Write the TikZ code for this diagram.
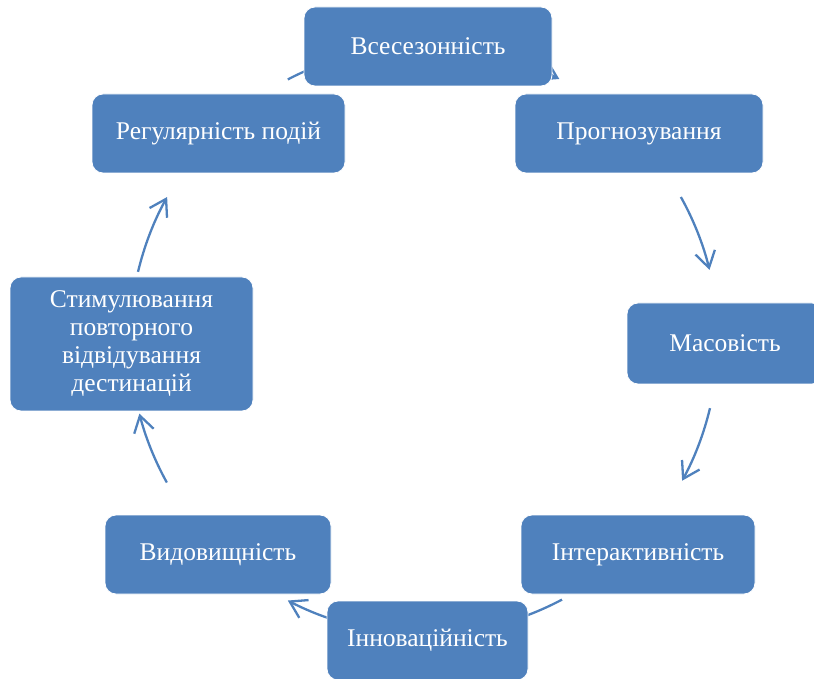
\documentclass[tikz,border=0pt]{standalone}
\usepackage{fontspec}
\setmainfont{Liberation Serif}
\usetikzlibrary{arrows.meta}
\definecolor{sablue}{HTML}{4F81BD}
\begin{document}
\begin{tikzpicture}[x=1pt,y=1pt,
  box/.style={rectangle, rounded corners=11pt, fill=sablue, draw=white, line width=0.8pt,
    text=white, align=center, inner sep=2pt,
    font=\fontsize{25.5}{28}\selectfont},
  cyc/.style={draw=sablue, line width=2.3pt, -{Straight Barb[length=16pt,width=20pt,line width=2.3pt]}}]
\useasboundingbox (0,0) rectangle (814,678);
\begin{scope}
\clip (0,0) rectangle (814,678);
\coordinate (O) at (424,338);
% connectors (drawn first, under the boxes)
\draw[cyc] (O) ++(117.6:294) arc[start angle=117.6, end angle=98, radius=294];
\draw[cyc] (O) ++(82:294) arc[start angle=82, end angle=62.6, radius=294];
\draw[cyc] (O) ++(29.1:294) arc[start angle=29.1, end angle=13.8, radius=294];
\draw[cyc] (O) ++(-13.4:294) arc[start angle=-13.4, end angle=-28.6, radius=294];
\draw[cyc] (O) ++(-62:294) arc[start angle=-62, end angle=-82, radius=294];
\draw[cyc] (O) ++(-98:294) arc[start angle=-98, end angle=-117.6, radius=294];
\draw[cyc] (O) ++(209:294) arc[start angle=209, end angle=194.5, radius=294];
\draw[cyc] (O) ++(166.6:294) arc[start angle=166.6, end angle=150.9, radius=294];
% boxes
\node[box, minimum width=248pt, minimum height=79pt] (n1) at (428,631.5) {Всесезонність};
\node[box, minimum width=248pt, minimum height=79pt] (n2) at (639,544.5) {Прогнозування};
\node[box, minimum width=196pt, minimum height=81pt] (n3) at (725,334.5) {Масовість};
\node[box, minimum width=234pt, minimum height=79pt] (n4) at (638,123.5) {Інтерактивність};
\node[box, minimum width=201pt, minimum height=79pt] (n5) at (427.5,37.5) {Інноваційність};
\node[box, minimum width=226pt, minimum height=79pt] (n6) at (218,123.5) {Видовищність};
\node[box, minimum width=243pt, minimum height=134pt] (n7) at (131.5,334) {Стимулювання\\повторного\\відвідування\\дестинацій};
\node[box, minimum width=253pt, minimum height=79pt] (n8) at (218.5,544.5) {Регулярність подій};
\end{scope}
\end{tikzpicture}
\end{document}
